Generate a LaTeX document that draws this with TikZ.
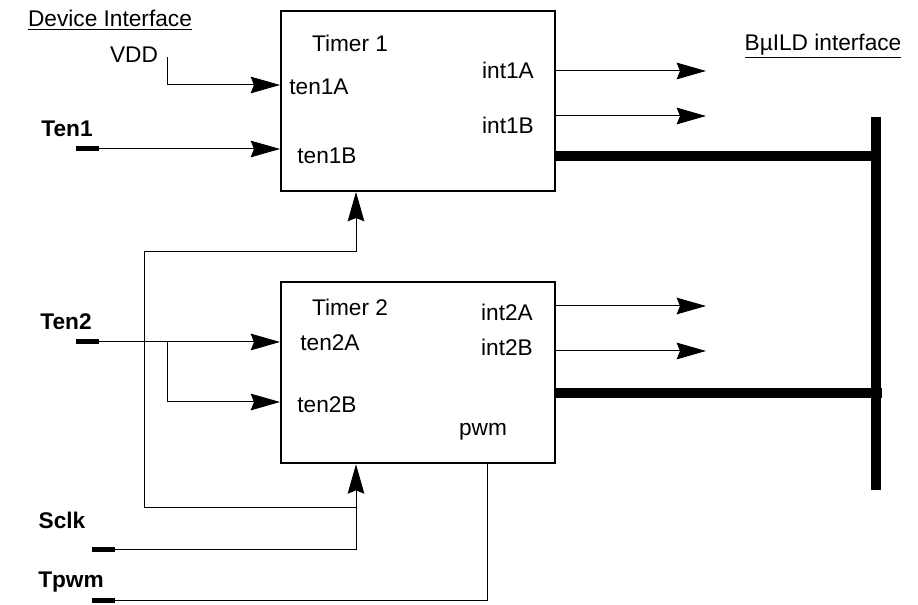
\documentclass[tikz,border=0pt]{standalone}
\usepackage{fontspec}
\setmainfont{Liberation Sans}
\usetikzlibrary{arrows.meta}
\begin{document}
\begin{tikzpicture}[x=0.75pt,y=-0.75pt,
  lbl/.style={font=\fontsize{17}{20}\selectfont, inner sep=0pt},
  pinlbl/.style={font=\fontsize{17}{20}\selectfont\bfseries, inner sep=0pt},
  timer/.style={draw, line width=1.5pt, minimum width=205.5pt, inner sep=0pt, anchor=north west},
  sig/.style={line width=0.75pt},
  arr/.style={sig, -{Stealth[length=22pt,width=12.5pt,inset=2.5pt]}},
  bus/.style={line width=7.5pt},
  pin/.style={fill=black, inner sep=0pt, minimum width=17.25pt, minimum height=3.75pt}]
\useasboundingbox (0,0) rectangle (918,605);

% timers
\node[timer, minimum height=135pt] (t1) at (280,10) {};
\node[timer, minimum height=136pt] (t2) at (280,281) {};

% pins
\node[pin] (pTen1) at (87.5,149) {};
\node[pin] (pTen2) at (87.5,342) {};
\node[pin] (pSclk) at (103.5,550) {};
\node[pin] (pTpwm) at (103.5,601) {};

% labels
\node[lbl] (devif) at (110,20) {\underline{Device Interface}};
\node[lbl] (vddl) at (134,55) {VDD};
\node[pinlbl] (ten1l) at (67,129) {Ten1};
\node[pinlbl] (ten2l) at (66,322) {Ten2};
\node[pinlbl] (sclkl) at (62,520) {Sclk};
\node[pinlbl] (tpwml) at (71,582) {Tpwm};
\node[lbl] (buildif) at (823,46) {\underline{BµILD interface}};

\node[lbl] (tim1) at (350,43) {Timer 1};
\node[lbl] (ten1A) at (319,87) {ten1A};
\node[lbl] (ten1B) at (327,156) {ten1B};
\node[lbl] (int1A) at (508,70) {int1A};
\node[lbl] (int1B) at (508,125) {int1B};

\node[lbl] (tim2) at (350,307) {Timer 2};
\node[lbl] (ten2A) at (330,343) {ten2A};
\node[lbl] (ten2B) at (327,405) {ten2B};
\node[lbl] (int2A) at (507,312) {int2A};
\node[lbl] (int2B) at (507,347) {int2B};
\node[lbl] (pwml) at (483,432) {pwm};

% coordinates
\coordinate (vdd) at (167,57);
\coordinate (vddin) at (280,85);
\coordinate (o1a) at (706,71);
\coordinate (o1b) at (706,116);
\coordinate (o2a) at (706,306);
\coordinate (o2b) at (706,351);
\coordinate (busT) at (876,117);
\coordinate (busB) at (876,490);
\coordinate (b1) at (876,156);
\coordinate (b2) at (882,393);
\coordinate (br) at (167,342);
\coordinate (br2) at (167,402);
\coordinate (sj) at (356,550);
\coordinate (lj) at (356,508);
\coordinate (l1) at (144,508);
\coordinate (l2) at (144,252);
\coordinate (l3) at (356,252);
\coordinate (pw) at (487,601);

% inputs timer 1
\draw[arr] (vdd) |- (t1.west |- vddin);
\draw[arr] (pTen1.east) -- (t1.west |- pTen1);

% outputs
\draw[arr] (t1.east |- o1a) -- (o1a);
\draw[arr] (t1.east |- o1b) -- (o1b);
\draw[arr] (t2.east |- o2a) -- (o2a);
\draw[arr] (t2.east |- o2b) -- (o2b);

% bus
\draw[bus] (busT) -- (busB);
\draw[bus] (t1.east |- b1) -- (b1);
\draw[bus] (t2.east |- b2) -- (b2);

% timer 2 inputs
\draw[arr] (pTen2.east) -- (t2.west |- pTen2);
\draw[arr] (br) |- (t2.west |- br2);

% clock
\draw[sig] (pSclk.east) -- (sj);
\draw[arr] (sj) -- (t2.south -| sj);
\draw[arr] (lj) -- (l1) -- (l2) -- (l3) -- (t1.south -| l3);

% pwm
\draw[sig] (pTpwm.east) -- (pw) -- (t2.south -| pw);
\end{tikzpicture}
\end{document}
